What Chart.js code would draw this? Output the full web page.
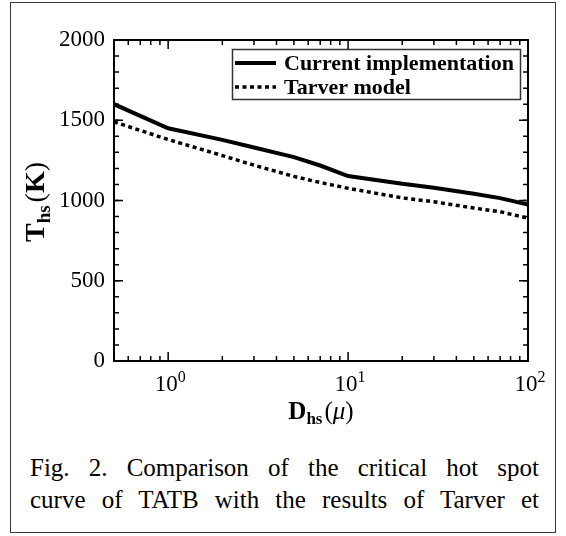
<!DOCTYPE html>
<html lang="en">
  <head>
    <meta charset="UTF-8" />
    <title>Critical hot spot curve of TATB</title>
    <script src="https://cdn.jsdelivr.net/npm/chart.js"></script>
    <style>
      body {
        margin: 0;
        background: #fff;
      }

      .page {
        position: relative;
        width: 566px;
        height: 536px;
      }

      .frame {
        position: absolute;
        left: 10px;
        top: 2px;
        width: 544px;
        height: 529px;
        border: 1.5px solid #3a3a3a;
      }

      canvas {
        position: absolute;
        left: 0;
        top: 0;
      }

      .caption {
        position: absolute;
        left: 30px;
        top: 452px;
        width: 509px;
        font-family: 'Liberation Serif', serif;
        font-size: 25px;
        line-height: 32px;
        color: #000;
      }

      .caption div {
        text-align: justify;
        text-align-last: justify;
      }
    </style>
  </head>
  <body>
    <div class="page">
      <div class="frame"></div>
      <canvas id="chart" width="566" height="430"></canvas>
      <div class="caption">
        <div>Fig. 2. Comparison of the critical hot spot</div>
        <div>curve of TATB with the results of Tarver et</div>
      </div>
    </div>

    <script>
      // hot spot diameter (micron) and critical temperature (K)
      const diameters = [0.5, 1, 2, 3, 5, 7, 10, 20, 30, 50, 70, 100];
      const currentImpl = [1600, 1450, 1378, 1330, 1270, 1218, 1152, 1105, 1080, 1042, 1015, 975];
      const tarverModel = [1490, 1380, 1280, 1220, 1150, 1112, 1076, 1016, 992, 953, 930, 890];

      const xMajorTicks = [1, 10, 100];
      const xMinorTicks = [0.6, 0.7, 0.8, 0.9, 2, 3, 4, 5, 6, 7, 8, 9, 20, 30, 40, 50, 60, 70, 80, 90];
      const yMajorTicks = [0, 500, 1000, 1500, 2000];
      const yMinorStep = 100;

      const serif = "'Liberation Serif', serif";

      const toPoints = (ys) => diameters.map((d, i) => ({ x: d, y: ys[i] }));

      // draws a run of text pieces with their own font / vertical offset
      function drawRich(ctx, parts, cx, cy) {
        let total = 0;
        parts.forEach((p) => {
          ctx.font = p.font;
          p.w = ctx.measureText(p.t).width;
          total += p.w + (p.gap || 0);
        });
        let x = cx - total / 2;
        ctx.textAlign = 'left';
        ctx.textBaseline = 'alphabetic';
        parts.forEach((p) => {
          ctx.font = p.font;
          ctx.fillText(p.t, x, cy + (p.dy || 0));
          x += p.w + (p.gap || 0);
        });
      }

      const axesDecor = {
        id: 'axesDecor',
        afterDatasetsDraw(chart) {
          const { ctx, chartArea: a, scales } = chart;
          const xs = scales.x;
          const ys = scales.y;
          ctx.save();
          ctx.strokeStyle = '#000';
          ctx.fillStyle = '#000';

          // inward ticks on all four sides
          ctx.lineWidth = 1.5;
          const tickX = (v, len) => {
            const px = xs.getPixelForValue(v);
            ctx.beginPath();
            ctx.moveTo(px, a.bottom);
            ctx.lineTo(px, a.bottom - len);
            ctx.moveTo(px, a.top);
            ctx.lineTo(px, a.top + len);
            ctx.stroke();
          };
          const tickY = (v, len) => {
            const py = ys.getPixelForValue(v);
            ctx.beginPath();
            ctx.moveTo(a.left, py);
            ctx.lineTo(a.left + len, py);
            ctx.moveTo(a.right, py);
            ctx.lineTo(a.right - len, py);
            ctx.stroke();
          };
          xMinorTicks.forEach((v) => tickX(v, 5));
          xMajorTicks.forEach((v) => tickX(v, 9));
          for (let v = 0; v <= 2000; v += yMinorStep) tickY(v, 5);
          yMajorTicks.forEach((v) => tickY(v, 9));

          // frame
          ctx.lineWidth = 2;
          ctx.strokeRect(a.left, a.top, a.right - a.left, a.bottom - a.top);

          // decade labels 10^k
          xMajorTicks.forEach((v) => {
            const px = xs.getPixelForValue(v);
            drawRich(
              ctx,
              [
                { t: '10', font: `23px ${serif}` },
                { t: String(Math.round(Math.log10(v))), font: `16px ${serif}`, dy: -9 },
              ],
              px + 2,
              391
            );
          });

          // axis titles
          drawRich(
            ctx,
            [
              { t: 'D', font: `bold 25px ${serif}` },
              { t: 'hs', font: `bold 17px ${serif}`, dy: 5, gap: 2 },
              { t: '(', font: `25px ${serif}` },
              { t: 'μ', font: `italic 25px ${serif}` },
              { t: ')', font: `25px ${serif}` },
            ],
            a.left + (a.right - a.left) / 2,
            419
          );
          ctx.save();
          ctx.translate(44, 202);
          ctx.rotate(-Math.PI / 2);
          drawRich(
            ctx,
            [
              { t: 'T', font: `bold 28px ${serif}` },
              { t: 'hs', font: `bold 19px ${serif}`, dy: 6, gap: 3 },
              { t: '(', font: `28px ${serif}` },
              { t: 'K', font: `bold 28px ${serif}` },
              { t: ')', font: `28px ${serif}` },
            ],
            0,
            0
          );
          ctx.restore();

          // legend box
          const box = { x: 232.5, y: 49.5, w: 288, h: 50 };
          ctx.fillStyle = '#fff';
          ctx.fillRect(box.x, box.y, box.w, box.h);
          ctx.strokeStyle = '#333';
          ctx.lineWidth = 1.5;
          ctx.strokeRect(box.x, box.y, box.w, box.h);
          const rows = [63, 87];
          chart.data.datasets.forEach((ds, i) => {
            const y = rows[i];
            ctx.strokeStyle = '#000';
            ctx.lineWidth = ds.borderWidth;
            ctx.setLineDash(ds.borderDash || []);
            ctx.beginPath();
            ctx.moveTo(235, y);
            ctx.lineTo(276, y);
            ctx.stroke();
            ctx.setLineDash([]);
            ctx.fillStyle = '#000';
            ctx.font = `bold 22px ${serif}`;
            ctx.textAlign = 'left';
            ctx.textBaseline = 'middle';
            ctx.fillText(ds.label, 284, y + 1);
          });
          ctx.restore();
        },
      };

      new Chart(document.getElementById('chart'), {
        type: 'line',
        data: {
          datasets: [
            {
              label: 'Current implementation',
              data: toPoints(currentImpl),
              borderColor: '#000',
              borderWidth: 4,
              pointRadius: 0,
              tension: 0,
            },
            {
              label: 'Tarver model',
              data: toPoints(tarverModel),
              borderColor: '#000',
              borderWidth: 3.5,
              borderDash: [4, 3.5],
              pointRadius: 0,
              tension: 0,
            },
          ],
        },
        options: {
          responsive: false,
          animation: false,
          layout: { padding: { left: 0, right: 38, top: 40, bottom: 0 } },
          plugins: { legend: { display: false }, tooltip: { enabled: false } },
          scales: {
            x: {
              type: 'logarithmic',
              min: 0.5,
              max: 100,
              grid: { display: false },
              border: { display: false },
              ticks: { display: false },
              afterFit: (s) => {
                s.height = 69;
              },
            },
            y: {
              min: 0,
              max: 2000,
              grid: { display: false, drawTicks: false },
              border: { display: false },
              ticks: {
                stepSize: 500,
                padding: 9,
                color: '#000',
                font: { family: 'Liberation Serif', size: 23 },
                callback: (v) => String(v),
              },
              afterFit: (s) => {
                s.width = 114;
              },
            },
          },
        },
        plugins: [axesDecor],
      });
    </script>
  </body>
</html>
